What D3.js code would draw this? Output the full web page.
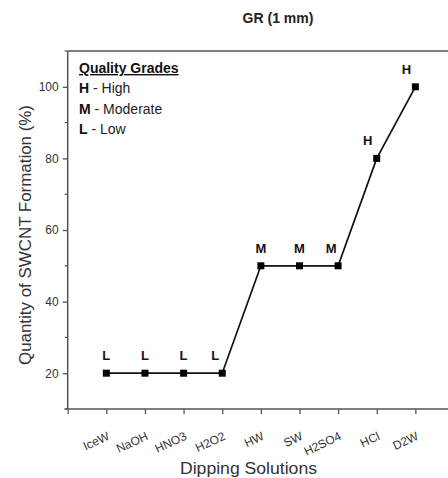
<!DOCTYPE html>
<html><head><meta charset="utf-8">
<script src="https://cdn.jsdelivr.net/npm/d3@7"></script>
<style>body{margin:0;background:#fff}svg{display:block;font-family:"Liberation Sans",Arial,sans-serif}</style>
</head><body>
<svg id="c" width="448" height="478"></svg>
<script>
const categories = ["IceW","NaOH","HNO3","H2O2","HW","SW","H2SO4","HCl","D2W"];
const values = [20,20,20,20,50,50,50,80,100];
const grades = ["L","L","L","L","M","M","M","H","H"];
const yTicks = [20,40,60,80,100];
const yMinor = [10,30,50,70,90,110];
const legendItems = [["H"," - High"],["M"," - Moderate"],["L"," - Low"]];

const svg = d3.select("#c");
const x = d3.scaleLinear().domain([-1, 9]).range([67.7, 454]);
const y = d3.scaleLinear().domain([10, 110]).range([409, 51]);
const axisCol = "#555", textCol = "#333";

// frame top line
svg.append("line").attr("x1", x(-1)).attr("x2", x(9)).attr("y1", y(110)).attr("y2", y(110))
  .attr("stroke", axisCol).attr("stroke-width", 1.5);

// y axis
const gy = svg.append("g").attr("transform", `translate(${x(-1)},0)`)
  .call(d3.axisLeft(y).tickValues(yTicks).tickSize(5).tickPadding(4));
gy.append("g").selectAll("line").data(yMinor).join("line")
  .attr("x1", -3).attr("x2", 0).attr("y1", d => y(d)).attr("y2", d => y(d))
  .attr("stroke", axisCol).attr("stroke-width", 1.3);
// x axis
const gx = svg.append("g").attr("transform", `translate(0,${y(10)})`)
  .call(d3.axisBottom(x).tickValues(d3.range(-1, 9)).tickSize(5).tickFormat(""));
[gx, gy].forEach(g => {
  g.select(".domain").attr("stroke", axisCol).attr("stroke-width", 1.5);
  g.selectAll(".tick line").attr("stroke", axisCol).attr("stroke-width", 1.3);
  g.selectAll("text").attr("fill", textCol).attr("font-size", 12).attr("font-family", "Liberation Sans, Arial, sans-serif");
});
gy.select(".domain").attr("d", `M0,${y(10)}V${y(110)}`);
gx.select(".domain").attr("d", `M${x(-1)-3},0H${x(9)}`);

// x tick labels rotated
svg.append("g").selectAll("text").data(categories).join("text")
  .attr("transform", (d, i) => `translate(${x(i) + 4},${y(10) + 30}) rotate(-25)`)
  .attr("text-anchor", "end").attr("font-size", 12).attr("fill", textCol)
  .text(d => d);

// line
const pts = values.map((v, i) => [x(i), y(v)]);
svg.append("path").attr("d", d3.line()(pts)).attr("fill", "none").attr("stroke", "#111").attr("stroke-width", 1.7);
svg.append("g").selectAll("rect").data(values).join("rect")
  .attr("x", (d, i) => x(i) - 3.5).attr("y", d => y(d) - 3.5).attr("width", 7).attr("height", 7).attr("fill", "#000");
// grade labels: nudged left where the connecting line would cross them
function labelShift(i) {
  const risesIn = i > 0 && values[i] > values[i - 1];
  const risesOut = i < values.length - 1 && values[i + 1] > values[i];
  if (risesIn && values[i] > 60) return -9;
  if (!risesIn && risesOut) return -7;
  return 0;
}
svg.append("g").selectAll("text").data(grades).join("text")
  .attr("x", (d, i) => x(i) + labelShift(i))
  .attr("y", (d, i) => y(values[i]) - 13)
  .attr("text-anchor", "middle").attr("font-weight", "bold").attr("font-size", 13).attr("fill", "#111")
  .text(d => d);

// title
svg.append("text").attr("x", 278).attr("y", 23).attr("text-anchor", "middle")
  .attr("font-weight", "bold").attr("font-size", 14).attr("fill", "#222").text("GR (1 mm)");
// axis titles
svg.append("text").attr("transform", `translate(31,235) rotate(-90)`)
  .attr("text-anchor", "middle").attr("font-size", 16).attr("fill", textCol)
  .attr("textLength", 260).attr("lengthAdjust", "spacingAndGlyphs")
  .text("Quantity of SWCNT Formation (%)");
svg.append("text").attr("x", 248.5).attr("y", 474).attr("text-anchor", "middle")
  .attr("font-size", 16).attr("fill", textCol)
  .attr("textLength", 137).attr("lengthAdjust", "spacingAndGlyphs")
  .text("Dipping Solutions");

// legend
svg.append("text").attr("x", 79).attr("y", 73).attr("font-weight", "bold").attr("font-size", 14)
  .attr("fill", "#111").attr("text-decoration", "underline").text("Quality Grades");
const lg = svg.append("g").selectAll("text").data(legendItems).join("text")
  .attr("x", 79).attr("y", (d, i) => 93 + i * 20.5).attr("font-size", 14).attr("fill", "#222");
lg.append("tspan").attr("font-weight", "bold").attr("fill", "#111").text(d => d[0]);
lg.append("tspan").text(d => d[1]);
</script>
</body></html>
